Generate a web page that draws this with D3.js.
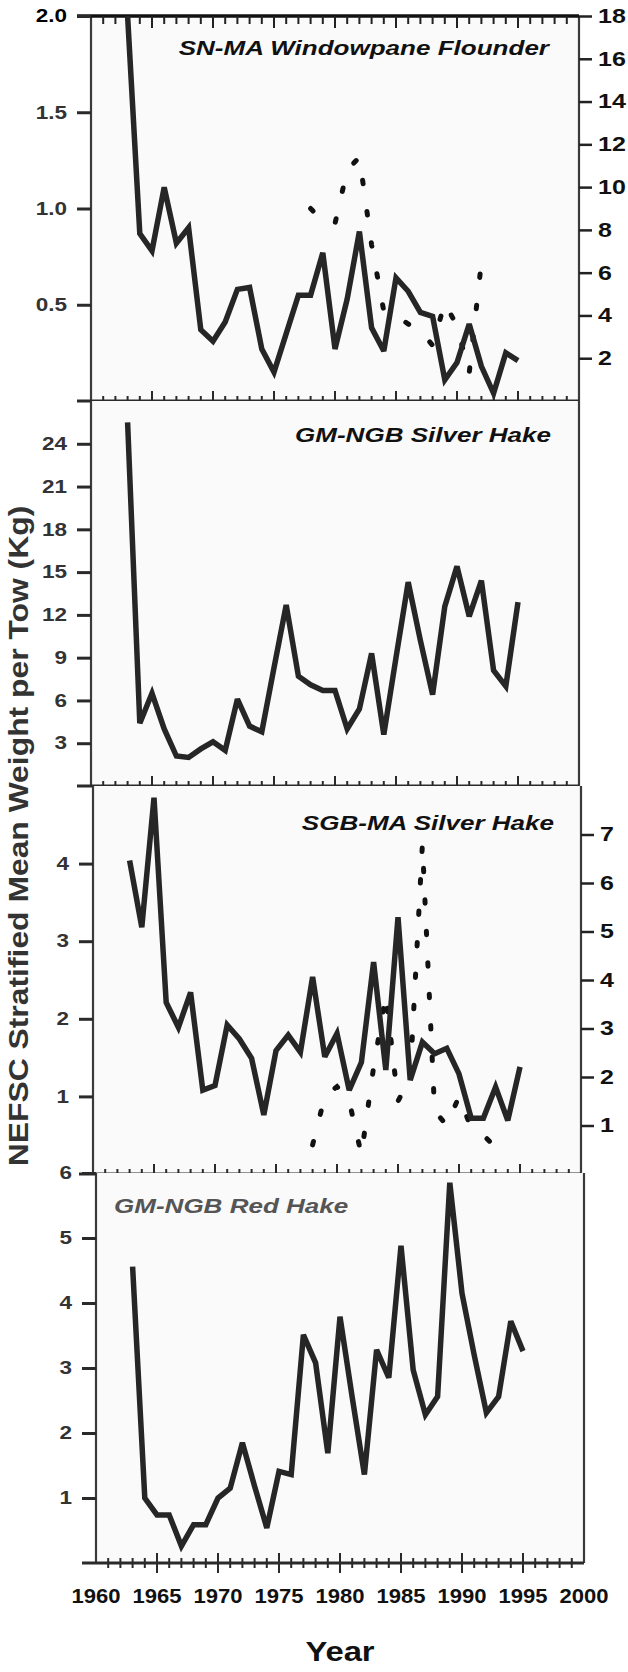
<!DOCTYPE html>
<html>
<head>
<meta charset="utf-8">
<script src="https://cdn.jsdelivr.net/npm/d3@7"></script>
<style>
  body { margin: 0; background: #fff; }
  svg { display: block; font-family: "Liberation Sans", Arial, sans-serif; }
</style>
</head>
<body>
<script>
// survey years for the solid series
const years = [1963, 1964, 1965, 1966, 1967, 1968, 1969, 1970, 1971, 1972, 1973,
  1974, 1975, 1976, 1977, 1978, 1979, 1980, 1981, 1982, 1983, 1984, 1985, 1986,
  1987, 1988, 1989, 1990, 1991, 1992, 1993, 1994, 1995];

// NEFSC stratified mean weight per tow (kg)
const windowpaneFlounder = [2.0, 0.87, 0.78, 1.11, 0.82, 0.90, 0.37, 0.31, 0.41, 0.58, 0.59,
  0.27, 0.15, 0.35, 0.55, 0.55, 0.77, 0.27, 0.53, 0.88, 0.38, 0.26, 0.64, 0.57,
  0.46, 0.44, 0.11, 0.20, 0.40, 0.18, 0.04, 0.25, 0.21];
const gmngbSilverHake = [25.5, 4.4, 6.5, 4.0, 2.1, 2.0, 2.6, 3.1, 2.5, 6.1, 4.2,
  3.8, 8.3, 12.7, 7.7, 7.1, 6.7, 6.7, 4.0, 5.4, 9.3, 3.6, 9.0, 14.3,
  10.2, 6.4, 12.6, 15.4, 11.9, 14.4, 8.1, 7.0, 12.9];
const sgbmaSilverHake = [4.04, 3.18, 4.85, 2.21, 1.89, 2.34, 1.08, 1.14, 1.92, 1.74, 1.49,
  0.76, 1.59, 1.79, 1.57, 2.54, 1.51, 1.81, 1.08, 1.44, 2.73, 1.34, 3.31, 1.21,
  1.70, 1.55, 1.62, 1.29, 0.72, 0.72, 1.12, 0.69, 1.38];
const gmngbRedHake = [4.56, 1.00, 0.74, 0.74, 0.26, 0.59, 0.59, 1.00, 1.15, 1.85, 1.18,
  0.54, 1.41, 1.36, 3.51, 3.08, 1.69, 3.79, 2.55, 1.36, 3.28, 2.85, 4.88, 2.97,
  2.28, 2.56, 5.85, 4.15, 3.20, 2.31, 2.56, 3.72, 3.26];

// dotted series on the right-hand axes
const flounderDotYears = [1978, 1979, 1980, 1981, 1982, 1983, 1984, 1985, 1986, 1987,
  1988, 1989, 1990, 1991, 1992];
const flounderDotValues = [9.0, 8.4, 8.3, 10.8, 11.4, 7.3, 4.2, 4.0, 3.6, 3.3,
  2.6, 4.6, 3.5, 1.3, 6.5];
const southHakeDotYears = [1978, 1979, 1980, 1981, 1982, 1983, 1984, 1985, 1986, 1987,
  1988, 1989, 1990, 1991, 1992, 1993, 1994];
const southHakeDotValues = [0.6, 1.6, 1.8, 1.5, 0.4, 2.2, 3.7, 1.5, 2.0, 6.8,
  1.3, 1.0, 1.6, 0.95, 0.8, 0.55, 0.3];

// tick values
const leftTicks1 = [0.5, 1.0, 1.5, 2.0];
const rightTicks1 = [2, 4, 6, 8, 10, 12, 14, 16, 18];
const leftTicks2 = [3, 6, 9, 12, 15, 18, 21, 24];
const leftTicks3 = [1, 2, 3, 4];
const rightTicks3 = [1, 2, 3, 4, 5, 6, 7];
const leftTicks4 = [1, 2, 3, 4, 5, 6];
const yearLabels = [1960, 1965, 1970, 1975, 1980, 1985, 1990, 1995, 2000];

const W = 628, H = 1672;
const plotW = 488;
const ink = "#262626";

const panels = [
  { top: 16, bottom: 401, x0: 91, yMax: 2, ticks: leftTicks1, fmt: d3.format(".1f"),
    rMax: 18, rTicks: rightTicks1, values: windowpaneFlounder,
    dotYears: flounderDotYears, dotValues: flounderDotValues,
    title: "SN-MA Windowpane Flounder", titleX: 549, titleY: 55, anchor: "end", titleFill: "#111" },
  { top: 401, bottom: 786, x0: 91, yMax: 27, ticks: leftTicks2, fmt: d3.format("d"),
    values: gmngbSilverHake,
    title: "GM-NGB Silver Hake", titleX: 551, titleY: 442, anchor: "end", titleFill: "#111" },
  { top: 786, bottom: 1174, x0: 93, yMax: 5, ticks: leftTicks3, fmt: d3.format("d"),
    rMax: 8, rTicks: rightTicks3, values: sgbmaSilverHake,
    dotYears: southHakeDotYears, dotValues: southHakeDotValues,
    title: "SGB-MA Silver Hake", titleX: 554, titleY: 830, anchor: "end", titleFill: "#111" },
  { top: 1173, bottom: 1563, x0: 96, yMax: 6, ticks: leftTicks4, fmt: d3.format("d"),
    values: gmngbRedHake,
    title: "GM-NGB Red Hake", titleX: 114, titleY: 1213, anchor: "start", titleFill: "#555" }
];

const svg = d3.select("body").append("svg")
  .attr("width", W).attr("height", H);

// stretch a text horizontally about its anchor point
function placeText(sel, x, y, sx) {
  sel.attr("x", 0).attr("y", 0)
    .attr("transform", "translate(" + x + "," + y + ") scale(" + sx + ",1)");
}

const tickYears = d3.range(1961, 2000);

panels.forEach(function (p, i) {
  const x = d3.scaleLinear().domain([1960, 2000]).range([p.x0, p.x0 + plotW]);
  const y = d3.scaleLinear().domain([0, p.yMax]).range([p.bottom, p.top]);
  const x1 = p.x0 + plotW;
  const g = svg.append("g");

  g.append("rect")
    .attr("x", p.x0).attr("y", p.top)
    .attr("width", plotW).attr("height", p.bottom - p.top)
    .attr("fill", "#fafafa");

  // frame sides
  [p.x0, x1].forEach(function (fx) {
    g.append("line")
      .attr("x1", fx).attr("x2", fx)
      .attr("y1", p.top).attr("y2", p.bottom)
      .attr("stroke", "#3a3a3a").attr("stroke-width", 2.2);
  });

  // horizontal axis line (zero) with year ticks crossing it
  g.append("line")
    .attr("x1", p.x0 - 14).attr("x2", x1)
    .attr("y1", p.bottom).attr("y2", p.bottom)
    .attr("stroke", "#2a2a2a").attr("stroke-width", 3);
  g.selectAll(".yt").data(tickYears).enter().append("line")
    .attr("x1", d => x(d)).attr("x2", d => x(d))
    .attr("y1", d => p.bottom - (d % 5 === 0 ? 10 : 5))
    .attr("y2", d => p.bottom + (d % 5 === 0 ? 10 : 5))
    .attr("stroke", "#2a2a2a").attr("stroke-width", 2);

  if (i === 0) {
    g.append("line")
      .attr("x1", p.x0 - 14).attr("x2", x1)
      .attr("y1", p.top).attr("y2", p.top)
      .attr("stroke", "#111").attr("stroke-width", 3.5);
    g.selectAll(".tt").data(tickYears).enter().append("line")
      .attr("x1", d => x(d)).attr("x2", d => x(d))
      .attr("y1", p.top)
      .attr("y2", d => p.top + (d % 5 === 0 ? 12 : 8))
      .attr("stroke", "#222").attr("stroke-width", 2);
  }

  // left axis
  const la = g.append("g")
    .attr("transform", "translate(" + p.x0 + ",0)")
    .call(d3.axisLeft(y).tickValues(p.ticks).tickSize(14).tickPadding(10).tickFormat(p.fmt));
  la.select(".domain").remove();
  la.selectAll(".tick line").attr("stroke", "#2a2a2a").attr("stroke-width", 3);
  la.selectAll(".tick text")
    .attr("x", -24 / 1.25)
    .attr("transform", "scale(1.25,1)")
    .attr("font-size", 18).attr("font-weight", "bold")
    .attr("fill", d => (i === 0 && d === 2) ? "#000" : "#333");

  // right axis, where the dotted series has its own scale
  if (p.rMax) {
    const yr = d3.scaleLinear().domain([0, p.rMax]).range([p.bottom, p.top]);
    const ra = g.append("g")
      .attr("transform", "translate(" + x1 + ",0)")
      .call(d3.axisRight(yr).tickValues(p.rTicks).tickSize(13).tickPadding(4).tickFormat(d3.format("d")));
    ra.select(".domain").remove();
    ra.selectAll(".tick line").attr("stroke", "#222").attr("stroke-width", 2.5);
    ra.selectAll(".tick text")
      .attr("x", 19 / 1.25)
      .attr("transform", "scale(1.25,1)")
      .attr("font-size", 20).attr("font-weight", "bold")
      .attr("fill", "#111");

    const dots = p.dotYears.map((yy, k) => ({ year: yy, v: p.dotValues[k] }));
    g.append("path")
      .datum(dots)
      .attr("d", d3.line().x(d => x(d.year)).y(d => yr(d.v)))
      .attr("fill", "none")
      .attr("stroke", "#111")
      .attr("stroke-width", 5)
      .attr("stroke-linecap", "round")
      .attr("stroke-dasharray", "3.5 28");
  }

  // solid series
  const pts = years.map((yy, k) => ({ year: yy, v: p.values[k] }));
  g.append("path")
    .datum(pts)
    .attr("d", d3.line().x(d => x(d.year)).y(d => y(d.v)))
    .attr("fill", "none")
    .attr("stroke", ink)
    .attr("stroke-width", 5.5)
    .attr("stroke-linejoin", "miter")
    .attr("stroke-miterlimit", 3);

  // panel title
  g.append("text")
    .text(p.title)
    .attr("text-anchor", p.anchor)
    .attr("font-size", 21).attr("font-weight", "bold").attr("font-style", "italic")
    .attr("fill", p.titleFill)
    .call(placeText, p.titleX, p.titleY, 1.24);

  // year labels under the last panel
  if (i === panels.length - 1) {
    g.selectAll(".yl").data(yearLabels).enter().append("text")
      .text(d => d)
      .attr("text-anchor", "middle")
      .attr("font-size", 21).attr("font-weight", "bold")
      .attr("fill", "#111")
      .each(function (d) { d3.select(this).call(placeText, x(d), 1603, 1.05); });
  }
});

svg.append("text")
  .text("Year")
  .attr("text-anchor", "middle")
  .attr("font-size", 28).attr("font-weight", "bold")
  .attr("fill", "#111")
  .call(placeText, 340, 1661, 1.17);

svg.append("text")
  .text("NEFSC Stratified Mean Weight per Tow (Kg)")
  .attr("text-anchor", "middle")
  .attr("font-size", 27).attr("font-weight", "bold")
  .attr("fill", "#333")
  .attr("x", 0).attr("y", 0)
  .attr("transform", "translate(28,836) rotate(-90) scale(1.18,1)");
</script>
</body>
</html>
